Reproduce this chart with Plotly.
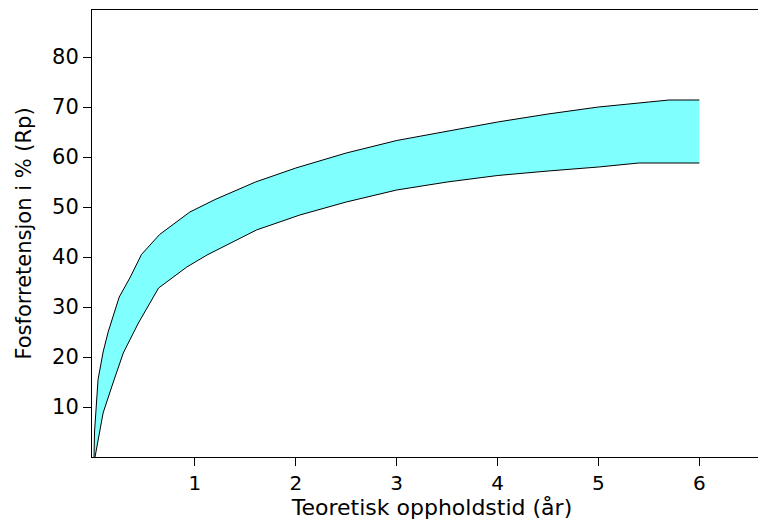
import plotly.graph_objects as go

# Teoretisk oppholdstid (år) vs fosforretensjon (%), upper/lower band
x_upper = [0, 0.005, 0.04, 0.09, 0.14, 0.25, 0.36, 0.47, 0.65, 0.95, 1.2, 1.6,
           2.0, 2.5, 3.0, 3.5, 4.0, 4.5, 5.0, 5.5, 5.7, 6.0]
y_upper = [0, 5, 15.5, 21, 25, 32, 36, 40.5, 44.5, 49, 51.5, 55,
           57.8, 60.8, 63.3, 65.2, 67, 68.6, 70, 71, 71.4, 71.4]

x_lower = [0.01, 0.09, 0.175, 0.29, 0.44, 0.64, 0.92, 1.12, 1.61, 2.04,
           2.5, 3.0, 3.5, 4.0, 4.5, 5.0, 5.4, 6.0]
y_lower = [0, 8.8, 14, 20.8, 26.8, 33.8, 38, 40.4, 45.4, 48.4,
           51, 53.4, 55, 56.3, 57.2, 58, 58.8, 58.8]

x_ticks = [1, 2, 3, 4, 5, 6]
y_ticks = [10, 20, 30, 40, 50, 60, 70, 80]

FONT = 'DejaVu Sans, Verdana, sans-serif'

fig = go.Figure()
fig.add_trace(go.Scatter(x=x_lower, y=y_lower, mode='lines',
                         line=dict(color='black', width=1), showlegend=False))
fig.add_trace(go.Scatter(x=x_upper, y=y_upper, mode='lines', fill='tonexty',
                         fillcolor='#80FFFF',
                         line=dict(color='black', width=1), showlegend=False))

# the frame runs off the right edge in the original, so the figure is a bit
# wider than the window and the overflow is hidden
fig.update_layout(
    width=772, height=527,
    paper_bgcolor='white', plot_bgcolor='white',
    margin=dict(l=92, r=0, t=10, b=70, autoexpand=False),
    font=dict(family=FONT, color='black', size=20),
    xaxis=dict(range=[-0.02, 6.72], tickvals=x_ticks, ticks='outside', ticklen=8,
               tickcolor='black', showline=True, linecolor='black', linewidth=1,
               mirror=True, showgrid=False, zeroline=False,
               tickfont=dict(size=20), automargin=False,
               title=dict(text='Teoretisk oppholdstid (år)', font=dict(size=22), standoff=4)),
    yaxis=dict(range=[0, 89.4], tickvals=y_ticks, ticks='outside', ticklen=8,
               tickcolor='black', showline=True, linecolor='black', linewidth=1,
               showgrid=False, zeroline=False,
               tickfont=dict(size=21), automargin=False,
               title=dict(text='Fosforretensjon i % (Rp)', font=dict(size=21), standoff=14)),
)

fig.write_html("out.html", config={'displayModeBar': False},
               post_script="document.body.style.margin='0';"
                           "document.body.style.overflow='hidden';")
